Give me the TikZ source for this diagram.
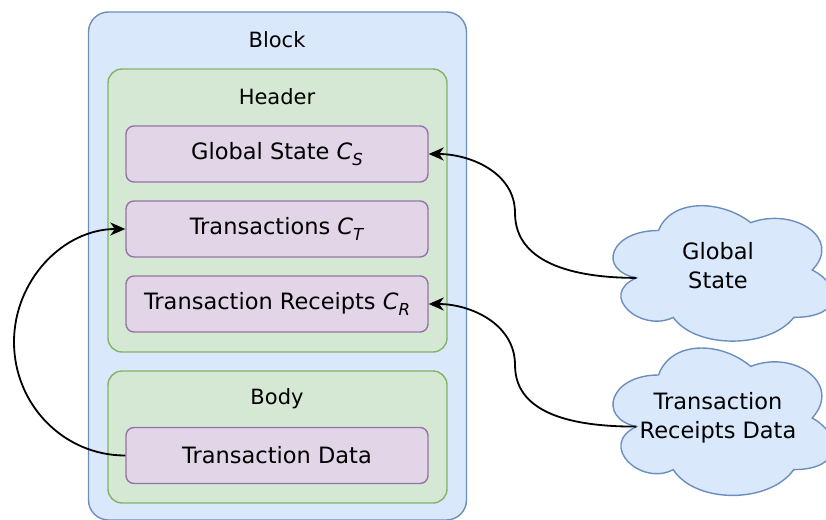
\documentclass[tikz,border=0pt]{standalone}
\usepackage{fontspec}
\setmainfont{DejaVu Sans}
\usetikzlibrary{arrows.meta}

\definecolor{blockfill}{HTML}{DAE8FC}
\definecolor{blockline}{HTML}{6C8EBF}
\definecolor{partfill}{HTML}{D5E8D4}
\definecolor{partline}{HTML}{82B366}
\definecolor{fieldfill}{HTML}{E1D5E7}
\definecolor{fieldline}{HTML}{9673A6}

% commitment symbol C with a lowered index
\newcommand{\commit}[1]{\textit{C}\raisebox{-0.3em}{\fontsize{16.5}{17}\selectfont\textit{#1}}}

% cloud outline in a unit box, #1 name, #2/#3 top left corner, #4/#5 size
\newcommand{\datacloud}[5]{%
  \begin{scope}[shift={(#2,#3)}, xscale=#4, yscale=#5]
    \draw[cloudbox] (0.25,0.25) .. controls (0.05,0.25) and (0,0.5) .. (0.16,0.55)
      .. controls (0,0.66) and (0.18,0.9) .. (0.31,0.8)
      .. controls (0.4,1) and (0.7,1) .. (0.8,0.8)
      .. controls (1,0.8) and (1,0.6) .. (0.875,0.5)
      .. controls (1,0.3) and (0.8,0.1) .. (0.625,0.2)
      .. controls (0.5,0.05) and (0.3,0.05) .. (0.25,0.25) -- cycle;
    \coordinate (#1-w) at (0.16,0.55);
  \end{scope}}

\begin{document}
\begin{tikzpicture}[
    x=1pt, y=-1pt,
    font=\fontsize{21}{25}\selectfont,
    blockbox/.style={rectangle, rounded corners=20pt, draw=blockline, fill=blockfill, line width=1.4pt},
    partbox/.style={rectangle, rounded corners=14pt, draw=partline, fill=partfill, line width=1.4pt},
    fieldbox/.style={rectangle, rounded corners=8pt, draw=fieldline, fill=fieldfill, line width=1.4pt,
      minimum width=302pt, minimum height=56pt, inner sep=0pt, font=\fontsize{22.5}{27}\selectfont},
    cloudbox/.style={draw=blockline, fill=blockfill, line width=1.4pt},
    cloudtext/.style={align=center, font=\fontsize{22.5}{29}\selectfont},
    link/.style={line width=1.8pt, -{Stealth[length=15pt, width=13pt, inset=4.5pt]}}
]
\useasboundingbox (0,0) rectangle (826,519);
\clip (0,0) rectangle (826,519);

% Block
\node[blockbox, minimum width=378pt, minimum height=508pt] (block) at (277.5,266) {};
\node (blocklbl) at (277,40) {Block};

% Header
\node[partbox, minimum width=339pt, minimum height=283pt] (header) at (277.5,210.5) {};
\node (headerlbl) at (277,97) {Header};
\node[fieldbox] (gs) at (277,154) {Global State \commit{S}};
\node[fieldbox] (tx) at (277,229) {Transactions \commit{T}};
\node[fieldbox] (tr) at (277,304) {Transaction Receipts \commit{R}};

% Body
\node[partbox, minimum width=339pt, minimum height=132pt] (body) at (277.5,437) {};
\node (bodylbl) at (277,399) {Body};
\node[fieldbox] (td) at (277,455.5) {Transaction Data};

% Clouds
\datacloud{gsdata}{597}{191}{246}{158}
\node[cloudtext] (gsdatalbl) at (718,266) {Global\\State};
\datacloud{trdata}{597}{332}{246}{172}
\node[cloudtext] (trdatalbl) at (718,418) {Transaction\\Receipts Data};

% Arrows
\coordinate (gsbend) at (515,213);
\coordinate (trbend) at (515,365);
\coordinate (loopbend) at (14,342);
\draw[link] (gsdata-w) to[out=180,in=-90] (gsbend) to[out=90,in=0] (gs.east);
\draw[link] (trdata-w) to[out=180,in=-90] (trbend) to[out=90,in=0] (tr.east);
\draw[link] (td.west) to[out=180,in=-90] (loopbend) to[out=90,in=180] (tx.west);

\end{tikzpicture}
\end{document}
